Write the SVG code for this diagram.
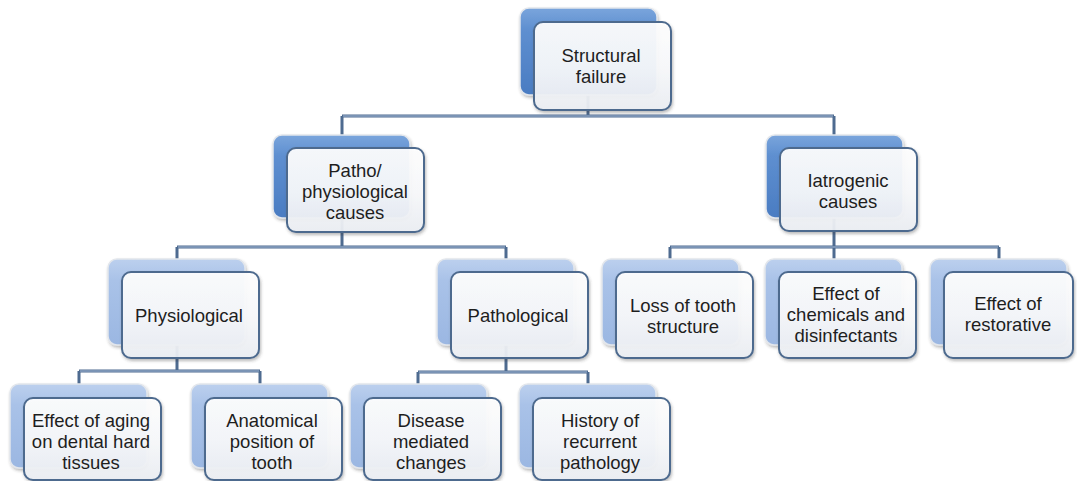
<svg xmlns="http://www.w3.org/2000/svg" width="1077" height="481" viewBox="0 0 1077 481">
  <defs>
    <linearGradient id="backDark" x1="0" y1="0" x2="0" y2="1">
      <stop offset="0" stop-color="#7aa5dc"/>
      <stop offset="0.25" stop-color="#5e8fd0"/>
      <stop offset="1" stop-color="#4a7cc2"/>
    </linearGradient>
    <linearGradient id="backLight" x1="0" y1="0" x2="0" y2="1">
      <stop offset="0" stop-color="#bcd0ee"/>
      <stop offset="0.25" stop-color="#a9c2e8"/>
      <stop offset="1" stop-color="#9bb7e2"/>
    </linearGradient>
    <linearGradient id="frontFill" x1="0" y1="0" x2="0" y2="1">
      <stop offset="0" stop-color="#ffffff"/>
      <stop offset="0.5" stop-color="#f9fafc"/>
      <stop offset="1" stop-color="#eceff4"/>
    </linearGradient>
    <filter id="shadow" x="-10%" y="-10%" width="125%" height="130%">
      <feDropShadow dx="1" dy="2" stdDeviation="1.6" flood-color="#3a3a3a" flood-opacity="0.35"/>
    </filter>
  </defs>
  <style>
    .back { stroke: #e2e6ec; stroke-width: 1.5; filter: url(#shadow); }
    .dark { fill: url(#backDark); }
    .light { fill: url(#backLight); }
    .front { fill: url(#frontFill); fill-opacity: 0.93; stroke: #4d6a8e; stroke-width: 2; filter: url(#shadow); }
    .conn { fill: none; stroke: #4e6b90; stroke-width: 3; }
    .hl { fill: none; stroke: #a6bcd9; stroke-width: 1; }
    text { font-family: "Liberation Sans", Arial, sans-serif; font-size: 18.5px; fill: #1e1e1e; text-anchor: middle; }
  </style>

  <!-- connectors -->
  <g id="connectors">
    <path class="conn" d="M588 95 V116 M342 116 H834 M342 116 V135 M834 116 V135"/>
    <path class="conn" d="M342 218 V247 M177 247 H506 M177 247 V259 M506 247 V259"/>
    <path class="conn" d="M834 218 V247 M670 247 H999 M670 247 V259 M834 247 V259 M999 247 V259"/>
    <path class="conn" d="M177 345 V371 M79 371 H260 M79 371 V384 M260 371 V384"/>
    <path class="conn" d="M506 345 V372 M418 372 H588 M418 372 V384 M588 372 V384"/>
    <path class="hl" d="M343 116 H833 M178 247 H505 M671 247 H998 M80 371 H259 M419 372 H587"/>
  </g>

  <!-- level 0 -->
  <g id="structural-failure">
    <rect class="back dark" x="520" y="8" width="137" height="87" rx="9"/>
    <rect class="front" x="534" y="22" width="137" height="88" rx="9"/>
    <text x="601"><tspan x="601" y="62">Structural</tspan><tspan x="601" y="83">failure</tspan></text>
  </g>

  <!-- level 1 -->
  <g id="patho-physiological">
    <rect class="back dark" x="273" y="135" width="137" height="83" rx="9"/>
    <rect class="front" x="287" y="148" width="137" height="84" rx="9"/>
    <text><tspan x="355" y="177">Patho/</tspan><tspan x="355" y="198">physiological</tspan><tspan x="355" y="219">causes</tspan></text>
  </g>
  <g id="iatrogenic">
    <rect class="back dark" x="766" y="135" width="137" height="83" rx="9"/>
    <rect class="front" x="780" y="148" width="137" height="83" rx="9"/>
    <text><tspan x="848" y="187">Iatrogenic</tspan><tspan x="848" y="208">causes</tspan></text>
  </g>

  <!-- level 2 -->
  <g id="physiological">
    <rect class="back light" x="108" y="259" width="137" height="86" rx="9"/>
    <rect class="front" x="122" y="272" width="137" height="86" rx="9"/>
    <text x="189" y="322">Physiological</text>
  </g>
  <g id="pathological">
    <rect class="back light" x="437" y="259" width="137" height="86" rx="9"/>
    <rect class="front" x="451" y="272" width="137" height="86" rx="9"/>
    <text x="518" y="322">Pathological</text>
  </g>
  <g id="loss-of-tooth-structure">
    <rect class="back light" x="602" y="259" width="137" height="86" rx="9"/>
    <rect class="front" x="616" y="272" width="137" height="86" rx="9"/>
    <text><tspan x="683" y="312">Loss of tooth</tspan><tspan x="683" y="333">structure</tspan></text>
  </g>
  <g id="chemicals-disinfectants">
    <rect class="back light" x="765" y="259" width="137" height="86" rx="9"/>
    <rect class="front" x="779" y="272" width="137" height="86" rx="9"/>
    <text><tspan x="846" y="300">Effect of</tspan><tspan x="846" y="321">chemicals and</tspan><tspan x="846" y="342">disinfectants</tspan></text>
  </g>
  <g id="effect-of-restorative">
    <rect class="back light" x="930" y="259" width="137" height="86" rx="9"/>
    <rect class="front" x="944" y="272" width="129" height="86" rx="9"/>
    <text><tspan x="1008" y="310">Effect of</tspan><tspan x="1008" y="331">restorative</tspan></text>
  </g>

  <!-- level 3 -->
  <g id="effect-of-aging">
    <rect class="back light" x="10" y="384" width="137" height="84" rx="9"/>
    <rect class="front" x="24" y="398" width="137" height="82" rx="9"/>
    <text><tspan x="91" y="427">Effect of aging</tspan><tspan x="91" y="448">on dental hard</tspan><tspan x="91" y="469">tissues</tspan></text>
  </g>
  <g id="anatomical-position">
    <rect class="back light" x="191" y="384" width="137" height="84" rx="9"/>
    <rect class="front" x="205" y="398" width="137" height="82" rx="9"/>
    <text><tspan x="272" y="427">Anatomical</tspan><tspan x="272" y="448">position of</tspan><tspan x="272" y="469">tooth</tspan></text>
  </g>
  <g id="disease-mediated">
    <rect class="back light" x="350" y="384" width="137" height="84" rx="9"/>
    <rect class="front" x="364" y="398" width="137" height="82" rx="9"/>
    <text><tspan x="431" y="427">Disease</tspan><tspan x="431" y="448">mediated</tspan><tspan x="431" y="469">changes</tspan></text>
  </g>
  <g id="recurrent-pathology">
    <rect class="back light" x="519" y="384" width="137" height="84" rx="9"/>
    <rect class="front" x="533" y="398" width="137" height="82" rx="9"/>
    <text><tspan x="600" y="427">History of</tspan><tspan x="600" y="448">recurrent</tspan><tspan x="600" y="469">pathology</tspan></text>
  </g>
</svg>
